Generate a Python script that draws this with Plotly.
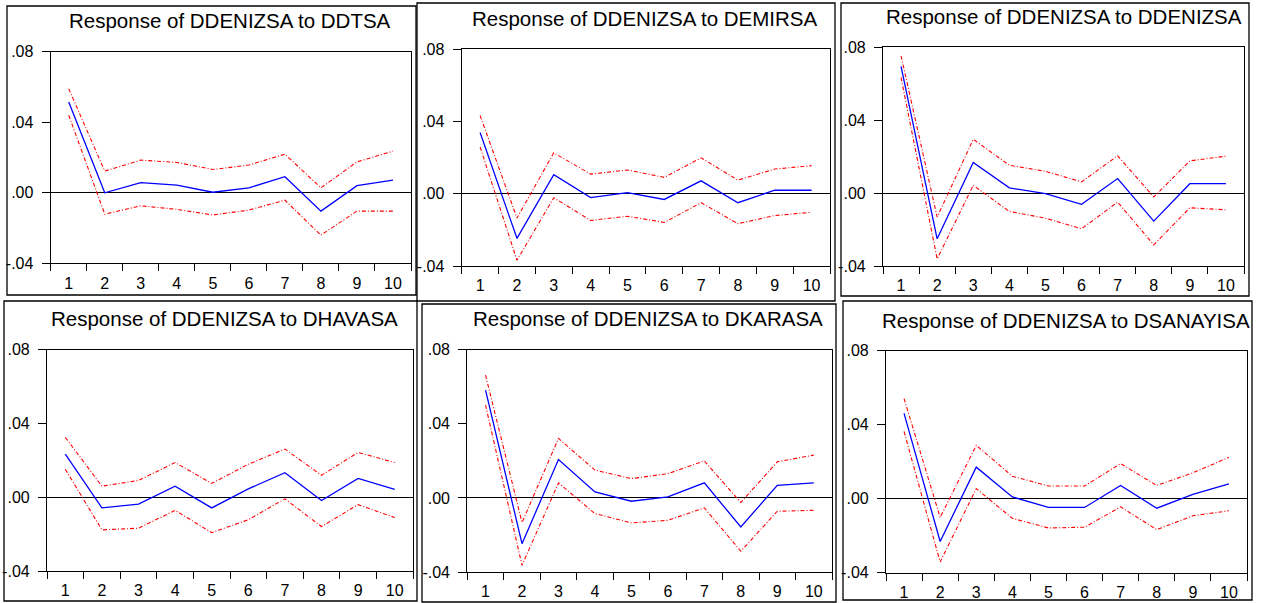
import plotly.graph_objects as go

periods = ["1", "2", "3", "4", "5", "6", "7", "8", "9", "10"]

titles = [
    "Response of DDENIZSA to DDTSA",
    "Response of DDENIZSA to DEMIRSA",
    "Response of DDENIZSA to DDENIZSA",
    "Response of DDENIZSA to DHAVASA",
    "Response of DDENIZSA to DKARASA",
    "Response of DDENIZSA to DSANAYISA",
]

# Impulse responses (blue) and +/- 2 S.E. bands (red dashed)
resp_ddtsa = [0.0515, 0.0000, 0.0057, 0.0043, 0.0003, 0.0028, 0.0091, -0.0104, 0.0040, 0.0072]
up_ddtsa = [0.0590, 0.0123, 0.0185, 0.0172, 0.0132, 0.0157, 0.0219, 0.0028, 0.0175, 0.0236]
lo_ddtsa = [0.0440, -0.0121, -0.0074, -0.0094, -0.0126, -0.0098, -0.0042, -0.0240, -0.0104, -0.0104]

resp_demirsa = [0.0338, -0.0247, 0.0105, -0.0022, 0.0006, -0.0032, 0.0071, -0.0050, 0.0019, 0.0019]
up_demirsa = [0.0432, -0.0135, 0.0226, 0.0108, 0.0131, 0.0090, 0.0198, 0.0075, 0.0136, 0.0155]
lo_demirsa = [0.0258, -0.0368, -0.0022, -0.0148, -0.0125, -0.0159, -0.0050, -0.0166, -0.0121, -0.0103]

resp_ddenizsa = [0.0694, -0.0251, 0.0167, 0.0028, -0.0004, -0.0062, 0.0079, -0.0154, 0.0051, 0.0051]
up_ddenizsa = [0.0752, -0.0132, 0.0294, 0.0152, 0.0119, 0.0061, 0.0204, -0.0022, 0.0176, 0.0202]
lo_ddenizsa = [0.0633, -0.0361, 0.0042, -0.0101, -0.0138, -0.0196, -0.0050, -0.0284, -0.0081, -0.0092]

resp_dhavasa = [0.0234, -0.0058, -0.0037, 0.0060, -0.0058, 0.0045, 0.0133, -0.0018, 0.0102, 0.0042]
up_dhavasa = [0.0325, 0.0060, 0.0091, 0.0188, 0.0075, 0.0179, 0.0261, 0.0119, 0.0243, 0.0188]
lo_dhavasa = [0.0152, -0.0177, -0.0168, -0.0071, -0.0192, -0.0122, -0.0009, -0.0159, -0.0040, -0.0110]

resp_dkarasa = [0.0582, -0.0247, 0.0207, 0.0032, -0.0018, 0.0005, 0.0081, -0.0157, 0.0068, 0.0081]
up_dkarasa = [0.0663, -0.0133, 0.0321, 0.0150, 0.0104, 0.0131, 0.0200, -0.0025, 0.0195, 0.0231]
lo_dkarasa = [0.0501, -0.0364, 0.0081, -0.0085, -0.0135, -0.0121, -0.0054, -0.0288, -0.0072, -0.0067]

resp_dsanayisa = [0.0461, -0.0232, 0.0170, 0.0009, -0.0048, -0.0048, 0.0071, -0.0052, 0.0023, 0.0080]
up_dsanayisa = [0.0541, -0.0102, 0.0288, 0.0121, 0.0068, 0.0068, 0.0189, 0.0071, 0.0139, 0.0223]
lo_dsanayisa = [0.0363, -0.0343, 0.0054, -0.0107, -0.0159, -0.0155, -0.0045, -0.0168, -0.0093, -0.0066]

y_tickvals = [-0.04, 0.0, 0.04, 0.08]
y_ticktext = ["-.04", ".00", ".04", ".08"]

panels = [
    (resp_ddtsa, up_ddtsa, lo_ddtsa),
    (resp_demirsa, up_demirsa, lo_demirsa),
    (resp_ddenizsa, up_ddenizsa, lo_ddenizsa),
    (resp_dhavasa, up_dhavasa, lo_dhavasa),
    (resp_dkarasa, up_dkarasa, lo_dkarasa),
    (resp_dsanayisa, up_dsanayisa, lo_dsanayisa),
]

W, H = 1265, 603
# plot areas in pixels: left, right, top, bottom
plot_px = [
    (50.7, 411, 51.7, 263.3),
    (461.7, 830, 49, 266),
    (883, 1244, 47, 266),
    (47, 413, 349.7, 571),
    (467.3, 832, 349.7, 572),
    (886, 1247, 350.7, 572.5),
]
# outer boxes: left, right, top, bottom
box_px = [
    (7, 416, 6, 295),
    (417, 835, 3, 301),
    (841, 1249, 3, 296),
    (4, 417, 301, 601),
    (422, 836, 304, 602),
    (843, 1252, 301, 600),
]
# title centers (x, y)
title_px = [
    (230, 21), (645, 19), (1064, 17),
    (224, 318), (648, 318), (1066, 320),
]

FONT = "Liberation Sans, Arial, sans-serif"
fig = go.Figure()
layout = dict(
    width=W, height=H, autosize=False,
    margin=dict(l=0, r=0, t=0, b=0, pad=0, autoexpand=False),
    paper_bgcolor="white", plot_bgcolor="white", showlegend=False,
    font=dict(family=FONT, color="black"),
)
shapes = []
annotations = []

for i, (resp, up, lo) in enumerate(panels):
    n = i + 1
    xa = "x" if n == 1 else f"x{n}"
    ya = "y" if n == 1 else f"y{n}"
    for vals, color, dash, width in [(up, "#FF0000", "4px,2px,1px,2px", 1.1),
                                     (lo, "#FF0000", "4px,2px,1px,2px", 1.1),
                                     (resp, "#0000FF", "solid", 1.3)]:
        fig.add_trace(go.Scatter(x=periods, y=vals, mode="lines", xaxis=xa, yaxis=ya,
                                 line=dict(color=color, dash=dash, width=width),
                                 hoverinfo="skip"))
    l, r, t, b = plot_px[i]
    xkey = "xaxis" if n == 1 else f"xaxis{n}"
    ykey = "yaxis" if n == 1 else f"yaxis{n}"
    layout[xkey] = dict(
        domain=[l / W, r / W], anchor=ya, type="category",
        categoryorder="array", categoryarray=periods, range=[-0.5, 9.5],
        tickson="boundaries", ticks="outside", ticklen=7, tickcolor="black",
        showline=True, linecolor="black", linewidth=1.2, mirror=True,
        showgrid=False, zeroline=False, fixedrange=True, automargin=False,
        ticklabelstandoff=5,
        tickfont=dict(family=FONT, size=16, color="black"),
    )
    layout[ykey] = dict(
        domain=[1 - b / H, 1 - t / H], anchor=xa, range=[-0.04, 0.08],
        tickvals=y_tickvals, ticktext=y_ticktext,
        ticks="outside", ticklen=8, tickcolor="black",
        showline=True, linecolor="black", linewidth=1.2, mirror=True,
        showgrid=False, zeroline=True, zerolinecolor="black", zerolinewidth=1,
        tickfont=dict(family=FONT, size=16, color="black"),
        ticklabelstandoff=5,
        fixedrange=True, automargin=False,
    )
    bl, br, bt, bb = box_px[i]
    shapes.append(dict(type="rect", xref="paper", yref="paper",
                       x0=bl / W, x1=br / W, y0=1 - bb / H, y1=1 - bt / H,
                       line=dict(color="black", width=1.3), fillcolor="rgba(0,0,0,0)"))
    tx, ty = title_px[i]
    annotations.append(dict(text=titles[i], xref="paper", yref="paper",
                            x=tx / W, y=1 - ty / H, xanchor="center", yanchor="middle",
                            showarrow=False,
                            font=dict(family=FONT, size=20.5, color="black")))

layout["shapes"] = shapes
layout["annotations"] = annotations
fig.update_layout(**layout)
fig.write_html(
    "out.html",
    config={"displayModeBar": False, "responsive": False},
    post_script="document.body.style.margin='0';document.body.style.padding='0';document.body.style.overflow='hidden';",
)
